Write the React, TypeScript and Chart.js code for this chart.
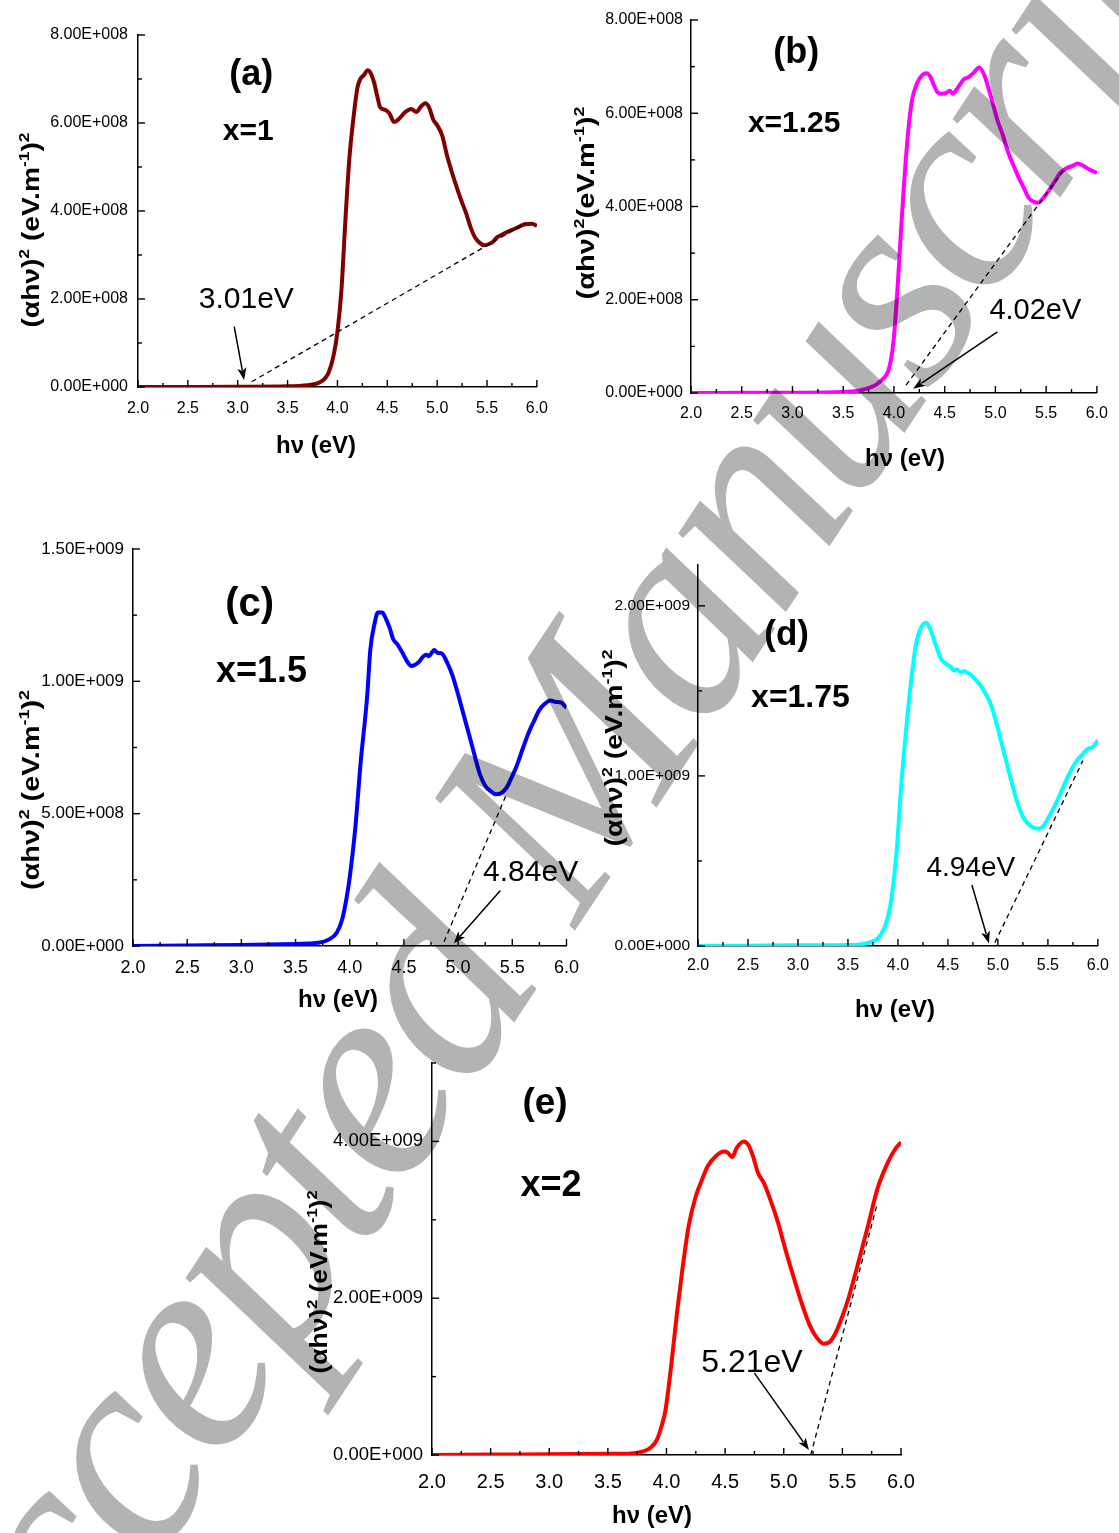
import React, { useEffect, useRef } from "react";
import { Chart, registerables } from "chart.js";

Chart.register(...registerables);

const FONT = '"Liberation Sans", Arial, Helvetica, sans-serif';

// ---------- shared axis ticks ----------
const xTickValues = [2, 2.5, 3, 3.5, 4, 4.5, 5, 5.5, 6];
const xTickLabels = ["2.0", "2.5", "3.0", "3.5", "4.0", "4.5", "5.0", "5.5", "6.0"];
const xMinorTicks = [2.25, 2.75, 3.25, 3.75, 4.25, 4.75, 5.25, 5.75];

// ---------- panel (a) x = 1 ----------
const energyA = [2.0, 2.5, 3.0, 3.5, 3.7, 3.8, 3.86, 3.91, 3.96, 4.0, 4.04, 4.08, 4.12, 4.16, 4.2, 4.23, 4.27, 4.3, 4.33, 4.37, 4.4, 4.43, 4.48, 4.52, 4.57, 4.62, 4.68, 4.74, 4.79, 4.84, 4.88, 4.92, 4.96, 5.0, 5.05, 5.1, 5.18, 5.24, 5.29, 5.34, 5.38, 5.43, 5.47, 5.52, 5.56, 5.6, 5.65, 5.7, 5.76, 5.82, 5.88, 5.95, 6.0];
const absA = [0, 0.002e8, 0.005e8, 0.015e8, 0.04e8, 0.08e8, 0.16e8, 0.32e8, 0.7e8, 1.25e8, 2.2e8, 3.8e8, 5.2e8, 6.1e8, 6.8e8, 7.0e8, 7.1e8, 7.2e8, 7.15e8, 6.9e8, 6.6e8, 6.35e8, 6.3e8, 6.22e8, 6.02e8, 6.1e8, 6.25e8, 6.32e8, 6.25e8, 6.38e8, 6.45e8, 6.35e8, 6.08e8, 5.95e8, 5.72e8, 5.25e8, 4.65e8, 4.25e8, 3.95e8, 3.6e8, 3.4e8, 3.27e8, 3.22e8, 3.25e8, 3.3e8, 3.4e8, 3.46e8, 3.52e8, 3.58e8, 3.64e8, 3.7e8, 3.71e8, 3.66e8];
const fitXA = [3.14, 5.89];
const fitYA = [0.12e8, 3.73e8];
const arrowXA = [2.965, 3.064];
const arrowYA = [1.37e8, 0.16e8];
const yTicksA = [0, 2e8, 4e8, 6e8, 8e8];
const yLabelsA = ["0.00E+000", "2.00E+008", "4.00E+008", "6.00E+008", "8.00E+008"];
const yMinorA = [1e8, 3e8, 5e8, 7e8];

// ---------- panel (b) x = 1.25 ----------
const energyB = [2.0, 2.5, 3.0, 3.5, 3.65, 3.74, 3.8, 3.85, 3.9, 3.94, 3.97, 4.0, 4.04, 4.07, 4.1, 4.14, 4.18, 4.22, 4.27, 4.32, 4.36, 4.39, 4.43, 4.47, 4.51, 4.55, 4.58, 4.63, 4.69, 4.74, 4.79, 4.84, 4.89, 4.93, 4.97, 5.02, 5.07, 5.12, 5.17, 5.23, 5.28, 5.33, 5.38, 5.42, 5.46, 5.52, 5.58, 5.64, 5.7, 5.76, 5.81, 5.86, 5.92, 6.0];
const absB = [0, 0.003e8, 0.006e8, 0.02e8, 0.05e8, 0.1e8, 0.15e8, 0.22e8, 0.32e8, 0.45e8, 0.7e8, 1.2e8, 2.4e8, 3.5e8, 4.5e8, 5.6e8, 6.3e8, 6.6e8, 6.8e8, 6.86e8, 6.78e8, 6.62e8, 6.45e8, 6.42e8, 6.43e8, 6.48e8, 6.42e8, 6.55e8, 6.73e8, 6.78e8, 6.88e8, 6.98e8, 6.82e8, 6.55e8, 6.25e8, 5.85e8, 5.55e8, 5.2e8, 4.92e8, 4.62e8, 4.4e8, 4.18e8, 4.1e8, 4.08e8, 4.15e8, 4.32e8, 4.52e8, 4.72e8, 4.82e8, 4.87e8, 4.92e8, 4.88e8, 4.8e8, 4.72e8];
const fitXB = [4.12, 5.69];
const fitYB = [0.17e8, 4.83e8];
const arrowXB = [5.02, 4.19];
const arrowYB = [1.31e8, 0.09e8];
const yTicksB = [0, 2e8, 4e8, 6e8, 8e8];
const yLabelsB = ["0.00E+000", "2.00E+008", "4.00E+008", "6.00E+008", "8.00E+008"];
const yMinorB = [1e8, 3e8, 5e8, 7e8];

// ---------- panel (c) x = 1.5 ----------
const energyC = [2.0, 2.5, 3.0, 3.5, 3.71, 3.81, 3.88, 3.93, 3.97, 4.0, 4.05, 4.1, 4.16, 4.19, 4.23, 4.26, 4.3, 4.33, 4.37, 4.4, 4.44, 4.49, 4.53, 4.57, 4.63, 4.68, 4.71, 4.73, 4.76, 4.78, 4.81, 4.85, 4.9, 4.95, 5.0, 5.06, 5.13, 5.2, 5.25, 5.3, 5.35, 5.4, 5.45, 5.48, 5.54, 5.6, 5.65, 5.7, 5.75, 5.8, 5.85, 5.9, 5.95, 6.0];
const absC = [0, 0.002e9, 0.004e9, 0.008e9, 0.012e9, 0.025e9, 0.05e9, 0.1e9, 0.18e9, 0.26e9, 0.44e9, 0.69e9, 0.94e9, 1.12e9, 1.22e9, 1.26e9, 1.26e9, 1.24e9, 1.2e9, 1.16e9, 1.14e9, 1.105e9, 1.075e9, 1.058e9, 1.07e9, 1.095e9, 1.1e9, 1.095e9, 1.11e9, 1.118e9, 1.108e9, 1.105e9, 1.07e9, 1.02e9, 0.95e9, 0.86e9, 0.755e9, 0.65e9, 0.605e9, 0.585e9, 0.573e9, 0.578e9, 0.6e9, 0.625e9, 0.68e9, 0.75e9, 0.805e9, 0.85e9, 0.892e9, 0.915e9, 0.928e9, 0.922e9, 0.92e9, 0.9e9];
const fitXC = [4.87, 5.45];
const fitYC = [0.016e9, 0.577e9];
const arrowXC = [5.39, 4.96];
const arrowYC = [0.21e9, 0.01e9];
const yTicksC = [0, 0.5e9, 1e9, 1.5e9];
const yLabelsC = ["0.00E+000", "5.00E+008", "1.00E+009", "1.50E+009"];
const yMinorC = [0.25e9, 0.75e9, 1.25e9];

// ---------- panel (d) x = 1.75 ----------
const energyD = [2.0, 2.5, 3.0, 3.5, 3.6, 3.7, 3.76, 3.8, 3.86, 3.9, 3.93, 3.96, 3.99, 4.03, 4.08, 4.13, 4.18, 4.23, 4.28, 4.31, 4.35, 4.39, 4.44, 4.48, 4.53, 4.56, 4.59, 4.63, 4.66, 4.7, 4.73, 4.77, 4.8, 4.84, 4.88, 4.93, 4.99, 5.06, 5.13, 5.19, 5.26, 5.33, 5.41, 5.46, 5.52, 5.59, 5.65, 5.72, 5.79, 5.85, 5.9, 5.95, 6.0];
const absD = [0, 0.002e9, 0.004e9, 0.006e9, 0.008e9, 0.018e9, 0.03e9, 0.045e9, 0.1e9, 0.17e9, 0.26e9, 0.4e9, 0.58e9, 0.92e9, 1.26e9, 1.55e9, 1.77e9, 1.87e9, 1.9e9, 1.88e9, 1.82e9, 1.75e9, 1.68e9, 1.66e9, 1.64e9, 1.62e9, 1.625e9, 1.61e9, 1.615e9, 1.605e9, 1.595e9, 1.57e9, 1.55e9, 1.52e9, 1.48e9, 1.42e9, 1.3e9, 1.14e9, 0.98e9, 0.85e9, 0.75e9, 0.705e9, 0.69e9, 0.71e9, 0.77e9, 0.85e9, 0.93e9, 1.02e9, 1.09e9, 1.13e9, 1.16e9, 1.17e9, 1.21e9];
const fitXD = [4.97, 5.85];
const fitYD = [0.02e9, 1.09e9];
const arrowXD = [4.74, 4.91];
const arrowYD = [0.359e9, 0.016e9];
const yTicksD = [0, 1e9, 2e9];
const yLabelsD = ["0.00E+000", "1.00E+009", "2.00E+009"];
const yMinorD = [0.5e9, 1.5e9];

// ---------- panel (e) x = 2 ----------
const energyE = [2.0, 2.5, 3.0, 3.5, 3.7, 3.8, 3.87, 3.92, 3.96, 3.99, 4.04, 4.09, 4.14, 4.19, 4.25, 4.3, 4.35, 4.42, 4.49, 4.52, 4.56, 4.6, 4.66, 4.7, 4.74, 4.78, 4.83, 4.88, 4.95, 5.02, 5.08, 5.15, 5.22, 5.28, 5.34, 5.39, 5.44, 5.5, 5.55, 5.63, 5.72, 5.8, 5.89, 5.95, 6.0];
const absE = [0, 0.005e9, 0.01e9, 0.015e9, 0.02e9, 0.045e9, 0.1e9, 0.2e9, 0.38e9, 0.56e9, 1.14e9, 1.82e9, 2.42e9, 2.93e9, 3.3e9, 3.5e9, 3.68e9, 3.81e9, 3.87e9, 3.86e9, 3.8e9, 3.92e9, 4.0e9, 3.95e9, 3.8e9, 3.6e9, 3.47e9, 3.28e9, 2.97e9, 2.59e9, 2.29e9, 1.95e9, 1.66e9, 1.5e9, 1.42e9, 1.44e9, 1.55e9, 1.77e9, 1.99e9, 2.42e9, 2.93e9, 3.4e9, 3.74e9, 3.9e9, 3.99e9];
const fitXE = [5.23, 5.8];
const fitYE = [0, 3.22e9];
const arrowXE = [4.75, 5.215];
const arrowYE = [1.044e9, 0.064e9];
const yTicksE = [0, 2e9, 4e9];
const yLabelsE = ["0.00E+000", "2.00E+009", "4.00E+009"];
const yMinorE = [1e9, 3e9, 5e9];

type Seg = { t: string; sup?: boolean };
const yTitleSpaced: Seg[] = [{ t: "(αhν)" }, { t: "2", sup: true }, { t: " (eV.m" }, { t: "-1", sup: true }, { t: ")" }, { t: "2", sup: true }];
const yTitleTight: Seg[] = [{ t: "(αhν)" }, { t: "2", sup: true }, { t: "(eV.m" }, { t: "-1", sup: true }, { t: ")" }, { t: "2", sup: true }];
const xTitle = "hν (eV)";
const watermark = "Accepted Manuscript";

interface Panel {
  key: string;
  color: string;
  xs: number[];
  ys: number[];
  fitX: number[];
  fitY: number[];
  arrowX: number[];
  arrowY: number[];
  yMax: number;
  yTicks: number[];
  yLabels: string[];
  yMinor: number[];
  tag: string;
  tagAt: number[];
  tagSize: number;
  comp: string;
  compAt: number[];
  compSize: number;
  gap: string;
  gapAt: number[];
  gapSize: number;
  box: { left: number; top: number; width: number; height: number };
  area: { left: number; top: number; right: number; bottom: number };
  yFont: number;
  yPad: number;
  xFont: number;
  xPad: number;
  yTitle: Seg[];
  yTitleAt: number[];
  yTitleLen: number;
  xTitleAt: number[];
}

const panels: Panel[] = [
  {
    key: "a", color: "#800000", xs: energyA, ys: absA, fitX: fitXA, fitY: fitYA, arrowX: arrowXA, arrowY: arrowYA,
    yMax: 8e8, yTicks: yTicksA, yLabels: yLabelsA, yMinor: yMinorA,
    tag: "(a)", tagAt: [3.136, 7.09e8], tagSize: 36, comp: "x=1", compAt: [3.106, 5.8e8], compSize: 30,
    gap: "3.01eV", gapAt: [3.086, 1.98e8], gapSize: 30,
    box: { left: 0, top: 0, width: 560, height: 470 }, area: { left: 138, top: 35, right: 543, bottom: 387 },
    yFont: 16, yPad: 10, xFont: 16, xPad: 12, yTitle: yTitleSpaced, yTitleAt: [30, 230], yTitleLen: 195, xTitleAt: [316, 446],
  },
  {
    key: "b", color: "#ff00ff", xs: energyB, ys: absB, fitX: fitXB, fitY: fitYB, arrowX: arrowXB, arrowY: arrowYB,
    yMax: 8e8, yTicks: yTicksB, yLabels: yLabelsB, yMinor: yMinorB,
    tag: "(b)", tagAt: [3.037, 7.29e8], tagSize: 36, comp: "x=1.25", compAt: [3.017, 5.77e8], compSize: 30,
    gap: "4.02eV", gapAt: [5.394, 1.76e8], gapSize: 29,
    box: { left: 560, top: 0, width: 559, height: 480 }, area: { left: 691, top: 20, right: 1100, bottom: 393 },
    yFont: 16, yPad: 8, xFont: 16, xPad: 11, yTitle: yTitleTight, yTitleAt: [585, 203], yTitleLen: 193, xTitleAt: [905, 459],
  },
  {
    key: "c", color: "#0000ff", xs: energyC, ys: absC, fitX: fitXC, fitY: fitYC, arrowX: arrowXC, arrowY: arrowYC,
    yMax: 1.5e9, yTicks: yTicksC, yLabels: yLabelsC, yMinor: yMinorC,
    tag: "(c)", tagAt: [3.076, 1.288e9], tagSize: 40, comp: "x=1.5", compAt: [3.186, 1.035e9], compSize: 36,
    gap: "4.84eV", gapAt: [5.669, 0.276e9], gapSize: 30,
    box: { left: 0, top: 520, width: 590, height: 500 }, area: { left: 133, top: 549, right: 568, bottom: 946 },
    yFont: 17, yPad: 9, xFont: 18, xPad: 11, yTitle: yTitleSpaced, yTitleAt: [30, 790], yTitleLen: 200, xTitleAt: [338, 1000],
  },
  {
    key: "d", color: "#00ffff", xs: energyD, ys: absD, fitX: fitXD, fitY: fitYD, arrowX: arrowXD, arrowY: arrowYD,
    yMax: 2.24e9, yTicks: yTicksD, yLabels: yLabelsD, yMinor: yMinorD,
    tag: "(d)", tagAt: [2.887, 1.829e9], tagSize: 35, comp: "x=1.75", compAt: [3.025, 1.459e9], compSize: 32,
    gap: "4.94eV", gapAt: [4.729, 0.459e9], gapSize: 28,
    box: { left: 590, top: 540, width: 529, height: 490 }, area: { left: 698, top: 565, right: 1104, bottom: 946 },
    yFont: 15.5, yPad: 8, xFont: 16, xPad: 10, yTitle: yTitleSpaced, yTitleAt: [613, 748], yTitleLen: 197, xTitleAt: [895, 1010],
  },
  {
    key: "e", color: "#ff0000", xs: energyE, ys: absE, fitX: fitXE, fitY: fitYE, arrowX: arrowXE, arrowY: arrowYE,
    yMax: 5e9, yTicks: yTicksE, yLabels: yLabelsE, yMinor: yMinorE,
    tag: "(e)", tagAt: [2.964, 4.486e9], tagSize: 37, comp: "x=2", compAt: [3.015, 3.425e9], compSize: 36,
    gap: "5.21eV", gapAt: [4.729, 1.176e9], gapSize: 32,
    box: { left: 280, top: 1040, width: 660, height: 493 }, area: { left: 432, top: 1063, right: 901, bottom: 1455 },
    yFont: 18.5, yPad: 9, xFont: 20, xPad: 15, yTitle: yTitleSpaced, yTitleAt: [318, 1282], yTitleLen: 183, xTitleAt: [652, 1516],
  },
];

function drawRichVertical(ctx: CanvasRenderingContext2D, segs: Seg[], cx: number, cy: number, size: number, targetLen: number) {
  const supSize = size * 0.62;
  let total = 0;
  const widths: number[] = [];
  for (const s of segs) {
    ctx.font = `bold ${s.sup ? supSize : size}px ${FONT}`;
    const w = ctx.measureText(s.t).width;
    widths.push(w);
    total += w;
  }
  const stretch = targetLen / total;
  ctx.save();
  ctx.translate(cx, cy);
  ctx.rotate(-Math.PI / 2);
  ctx.scale(stretch, 1);
  ctx.textAlign = "left";
  ctx.textBaseline = "alphabetic";
  let x = -total / 2;
  const base = size * 0.36;
  segs.forEach((s, i) => {
    ctx.font = `bold ${s.sup ? supSize : size}px ${FONT}`;
    ctx.fillText(s.t, x, s.sup ? base - size * 0.42 : base);
    x += widths[i];
  });
  ctx.restore();
}

const decorPlugin = {
  id: "decor",
  afterDraw(chart: any, _args: any, opts: any) {
    const p: Panel = opts.panel;
    const ctx: CanvasRenderingContext2D = chart.ctx;
    const xs = chart.scales.x;
    const ys = chart.scales.y;
    const a = chart.chartArea;
    ctx.save();
    ctx.strokeStyle = "#000";
    ctx.fillStyle = "#000";
    ctx.lineWidth = 1.4;
    const seg = (x1: number, y1: number, x2: number, y2: number) => {
      ctx.beginPath();
      ctx.moveTo(x1, y1);
      ctx.lineTo(x2, y2);
      ctx.stroke();
    };
    // inward ticks
    for (const v of xTickValues) { const px = xs.getPixelForValue(v); seg(px, a.bottom, px, a.bottom - 7); }
    for (const v of xMinorTicks) { const px = xs.getPixelForValue(v); seg(px, a.bottom, px, a.bottom - 4); }
    for (const v of p.yTicks) { const py = ys.getPixelForValue(v); seg(a.left, py, a.left + 7, py); }
    for (const v of p.yMinor) { const py = ys.getPixelForValue(v); seg(a.left, py, a.left + 4, py); }

    // arrow
    const x1 = xs.getPixelForValue(p.arrowX[0]);
    const y1 = ys.getPixelForValue(p.arrowY[0]);
    const x2 = xs.getPixelForValue(p.arrowX[1]);
    const y2 = ys.getPixelForValue(p.arrowY[1]);
    const ang = Math.atan2(y2 - y1, x2 - x1);
    const headL = 12;
    const headW = 4.5;
    ctx.lineWidth = 1.5;
    seg(x1, y1, x2 - Math.cos(ang) * headL * 0.8, y2 - Math.sin(ang) * headL * 0.8);
    ctx.beginPath();
    ctx.moveTo(x2, y2);
    ctx.lineTo(x2 - Math.cos(ang) * headL - Math.sin(ang) * headW, y2 - Math.sin(ang) * headL + Math.cos(ang) * headW);
    ctx.lineTo(x2 - Math.cos(ang) * headL * 0.75, y2 - Math.sin(ang) * headL * 0.75);
    ctx.lineTo(x2 - Math.cos(ang) * headL + Math.sin(ang) * headW, y2 - Math.sin(ang) * headL - Math.cos(ang) * headW);
    ctx.closePath();
    ctx.fill();

    // labels
    ctx.textAlign = "center";
    ctx.textBaseline = "middle";
    ctx.font = `bold ${p.tagSize}px ${FONT}`;
    ctx.fillText(p.tag, xs.getPixelForValue(p.tagAt[0]), ys.getPixelForValue(p.tagAt[1]));
    ctx.font = `bold ${p.compSize}px ${FONT}`;
    ctx.fillText(p.comp, xs.getPixelForValue(p.compAt[0]), ys.getPixelForValue(p.compAt[1]));
    ctx.font = `${p.gapSize}px ${FONT}`;
    ctx.fillText(p.gap, xs.getPixelForValue(p.gapAt[0]), ys.getPixelForValue(p.gapAt[1]));

    // axis titles
    const ox = p.box.left;
    const oy = p.box.top;
    ctx.font = `bold 24px ${FONT}`;
    ctx.fillText(xTitle, p.xTitleAt[0] - ox, p.xTitleAt[1] - oy);
    drawRichVertical(ctx, p.yTitle, p.yTitleAt[0] - ox, p.yTitleAt[1] - oy, 24, p.yTitleLen);
    ctx.restore();
  },
};

function PanelChart({ p }: { p: Panel }) {
  const ref = useRef<HTMLCanvasElement>(null);
  useEffect(() => {
    const canvas = ref.current;
    if (!canvas) return;
    const { box, area } = p;
    const chart = new Chart(canvas, {
      type: "line",
      data: {
        datasets: [
          {
            data: p.fitX.map((x, i) => ({ x, y: p.fitY[i] })),
            borderColor: "#000",
            borderWidth: 1.3,
            borderDash: [5, 4],
            pointRadius: 0,
            fill: false,
            order: 0,
          },
          {
            data: p.xs.map((x, i) => ({ x, y: p.ys[i] })),
            borderColor: p.color,
            borderWidth: 4,
            pointRadius: 0,
            cubicInterpolationMode: "monotone",
            fill: false,
            order: 1,
          },
        ],
      },
      options: {
        animation: false,
        responsive: false,
        devicePixelRatio: 1,
        events: [],
        layout: {
          padding: {
            left: 0,
            top: area.top - box.top,
            right: box.left + box.width - area.right,
            bottom: 0,
          },
        },
        plugins: {
          legend: { display: false },
          tooltip: { enabled: false },
          decor: { panel: p },
        } as any,
        scales: {
          x: {
            type: "linear",
            min: 2,
            max: 6,
            afterBuildTicks: (s: any) => { s.ticks = xTickValues.map((v) => ({ value: v })); },
            afterFit: (s: any) => { s.height = box.top + box.height - area.bottom; },
            grid: { display: false, drawTicks: false },
            border: { display: true, color: "#000", width: 1.5 },
            ticks: {
              callback: (_v: any, i: number) => xTickLabels[i],
              font: { family: FONT, size: p.xFont },
              color: "#000",
              padding: p.xPad,
              maxRotation: 0,
              autoSkip: false,
            },
          },
          y: {
            type: "linear",
            min: 0,
            max: p.yMax,
            afterBuildTicks: (s: any) => { s.ticks = p.yTicks.map((v) => ({ value: v })); },
            afterFit: (s: any) => { s.width = area.left - box.left; },
            grid: { display: false, drawTicks: false },
            border: { display: true, color: "#000", width: 1.5 },
            ticks: {
              callback: (_v: any, i: number) => p.yLabels[i],
              font: { family: FONT, size: p.yFont },
              color: "#000",
              padding: p.yPad,
              autoSkip: false,
            },
          },
        },
      } as any,
      plugins: [decorPlugin as any],
    });
    return () => chart.destroy();
  }, [p]);
  return (
    <canvas
      ref={ref}
      width={p.box.width}
      height={p.box.height}
      style={{ position: "absolute", left: p.box.left, top: p.box.top, width: p.box.width, height: p.box.height }}
    />
  );
}

export default function App() {
  return (
    <div style={{ position: "absolute", left: 0, top: 0, width: 1119, height: 1533, background: "#fff", overflow: "hidden" }}>
      {panels.map((p) => (
        <PanelChart key={p.key} p={p} />
      ))}
      <svg
        width={1119}
        height={1533}
        style={{ position: "absolute", left: 0, top: 0, pointerEvents: "none", mixBlendMode: "multiply" }}
      >
        <text
          x={-5}
          y={1807}
          transform="rotate(-56.5 -5 1807)"
          fontFamily='"Liberation Serif", "Times New Roman", serif'
          fontStyle="italic"
          fontSize={290}
          letterSpacing={-9}
          fill="#b3b3b3"
        >
          {watermark}
        </text>
      </svg>
    </div>
  );
}
